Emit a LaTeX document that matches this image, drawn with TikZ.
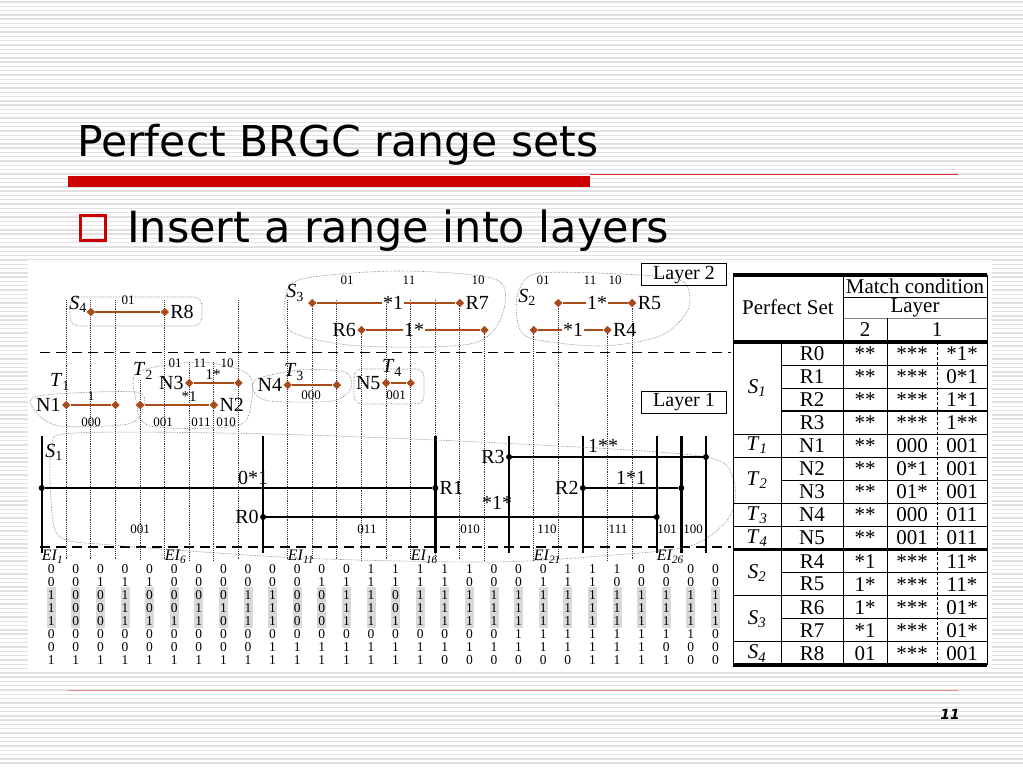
\documentclass[tikz,border=0pt]{standalone}
\usepackage{fontspec}
\setmainfont{DejaVu Sans}
\newfontfamily\tnr{Liberation Serif}
\usetikzlibrary{shapes.geometric}
\definecolor{brn}{RGB}{168,74,26}
\definecolor{slidered}{RGB}{204,0,0}
\newcommand\sub[2]{\textit{#1}\textsubscript{#2}}
\newcommand\isub[2]{\textit{#1}\textsubscript{\textit{#2}}}
\newcommand\fs[1]{\fontsize{#1}{#1}\selectfont}
\begin{document}
\begin{tikzpicture}[x=1pt,y=-1pt,
  dia/.style={diamond,fill=brn,inner sep=0pt,minimum size=8.5pt},
  sdot/.style={circle,fill=black,inner sep=0pt,minimum size=6pt},
  lbl/.style={inner sep=1pt,font=\tnr\fs{20}},
  sml/.style={inner sep=0pt,font=\tnr\fs{13}},
  bit/.style={inner sep=0pt,font=\tnr\fs{13.5}},
  blob/.style={draw=black!55,densely dotted,line width=0.6pt},
  rng/.style={draw=brn,line width=1.8pt},
  srng/.style={draw=black,line width=2pt},
  vdot/.style={draw=black!80,densely dotted,line width=0.9pt},
  vbold/.style={draw=black,line width=2.4pt},
  hdash/.style={draw=black,line width=1.8pt,dash pattern=on 10pt off 6pt},
  cell/.style={inner sep=0pt,font=\tnr\fs{21}}]
\useasboundingbox (0,0) rectangle (1023,767);
\foreach \y in {2,6.3,...,767} \draw[black!12,line width=1.4pt] (0,\y) -- (1023,\y);
\fill[white] (28,260) rectangle (992,672);
\node[anchor=base west,inner sep=0pt,font=\fs{42.5}] (title) at (77,157) {Perfect BRGC range sets};
\fill[slidered] (68,176) rectangle (590,187);
\draw[slidered!80,line width=1pt] (590,174.5) -- (958,174.5);
\node[draw=slidered,line width=3.5pt,minimum size=25pt,inner sep=0pt] (box) at (93,228) {};
\node[anchor=base west,inner sep=0pt,font=\fs{43}] (item) at (127,243) {Insert a range into layers};
\draw[slidered!45,line width=0.8pt] (68,690) -- (958,690);
\node[font=\bfseries\itshape\fs{14}] (pg) at (950,714) {11};
\foreach \k in {0,...,27} \coordinate (b\k) at ({41.7+24.6*\k},0);
\foreach \k/\t in {1/300,2/300,3/300,4/380,5/300,6/362,7/362,8/300,10/300,11/300,12/300,13/328,14/300,15/300,16/300,17/300,18/328,20/328,21/300,23/328,24/300}
  \draw[vdot] (b\k |- 0,\t) -- (b\k |- 0,560);
\foreach \k in {0,9,16,19,22,25,26,27} \draw[vbold] (b\k |- 0,436) -- (b\k |- 0,553);
\draw[hdash] (40,352.5) -- (731,352.5);
\draw[hdash] (40,547) -- (731,547);
\draw[blob,rounded corners=9pt] (70,297) rectangle (202,326);
\draw[blob] plot[smooth cycle] coordinates {(285,300) (302,279) (400,271) (497,280) (501,318) (470,344) (360,346) (292,332)};
\draw[blob] plot[smooth cycle] coordinates {(519,290) (540,273) (640,275) (684,282) (688,310) (660,336) (600,346) (530,338) (517,318)};
\draw[blob] plot[smooth cycle] coordinates {(38,396) (135,392) (143,408) (128,424) (60,426) (36,412)};
\draw[blob] plot[smooth cycle] coordinates {(138,372) (200,362) (248,374) (251,404) (236,426) (150,426) (136,400)};
\draw[blob] plot[smooth cycle] coordinates {(257,379) (300,370) (345,372) (351,388) (332,401) (270,401) (254,392)};
\draw[blob,rounded corners=8pt] (354,369) rectangle (424,404);
\draw[blob] plot[smooth cycle] coordinates {(52,448) (75,433) (270,434) (500,443) (700,456) (733,478) (730,516) (690,546) (600,556) (490,562) (300,558) (112,545) (60,537) (51,500)};
\node[draw,line width=1pt,minimum width=85pt,minimum height=22pt,inner sep=0pt,font=\tnr\fs{20}] (lay2) at (684,275) {Layer 2};
\node[draw,line width=1pt,minimum width=85pt,minimum height=22pt,inner sep=0pt,font=\tnr\fs{20}] (lay1) at (684,402) {Layer 1};
% layer 2
\node[lbl] (s4) at (78,304) {\sub{S}{4}}; \node[sml] (s4c) at (128,300) {01};
\node[dia] (r8a) at (b2 |- 0,312) {}; \node[dia] (r8b) at (b5 |- 0,312) {};
\draw[rng] (r8a) -- (r8b); \node[lbl,anchor=west] (r8) at (r8b.east) {R8};
\node[lbl] (s3) at (295,293) {\sub{S}{3}};
\node[sml] (s3c1) at (347,280) {01}; \node[sml] (s3c2) at (409,280) {11}; \node[sml] (s3c3) at (478,280) {10};
\node[dia] (r7a) at (b11 |- 0,303) {}; \node[dia] (r7b) at (b17 |- 0,303) {};
\node[lbl] (r7m) at (393,303) {*1}; \draw[rng] (r7a) -- (r7m.west) (r7m.east) -- (r7b);
\node[lbl,anchor=west] (r7) at (r7b.east) {R7};
\node[dia] (r6a) at (b13 |- 0,330) {}; \node[dia] (r6b) at (b18 |- 0,330) {};
\node[lbl] (r6m) at (414,330) {1*}; \draw[rng] (r6a) -- (r6m.west) (r6m.east) -- (r6b);
\node[lbl,anchor=east] (r6) at (r6a.west) {R6};
\node[lbl] (s2) at (527,297) {\sub{S}{2}};
\node[sml] (s2c1) at (543,280) {01}; \node[sml] (s2c2) at (590,280) {11}; \node[sml] (s2c3) at (615,280) {10};
\node[dia] (r5a) at (b21 |- 0,303) {}; \node[dia] (r5b) at (b24 |- 0,303) {};
\node[lbl] (r5m) at (597,303) {1*}; \draw[rng] (r5a) -- (r5m.west) (r5m.east) -- (r5b);
\node[lbl,anchor=west] (r5) at (r5b.east) {R5};
\node[dia] (r4a) at (b20 |- 0,330) {}; \node[dia] (r4b) at (b23 |- 0,330) {};
\node[lbl] (r4m) at (573,330) {*1}; \draw[rng] (r4a) -- (r4m.west) (r4m.east) -- (r4b);
\node[lbl,anchor=west] (r4) at (r4b.east) {R4};
% layer 1
\node[lbl] (t1) at (60,382) {\sub{T}{1}};
\node[dia] (n1a) at (b1 |- 0,405) {}; \node[dia] (n1b) at (b3 |- 0,405) {};
\draw[rng] (n1a) -- (n1b); \node[lbl,anchor=east] (n1) at (n1a.west) {N1};
\node[sml] (n1m) at (91,396) {1}; \node[sml] (n1c) at (91,422) {000};
\node[lbl] (t2) at (143,371) {\sub{T}{2}};
\node[sml] (t2c1) at (175,363) {01}; \node[sml] (t2c2) at (200,363) {11}; \node[sml] (t2c3) at (227,363) {10};
\node[dia] (n2a) at (b4 |- 0,405) {}; \node[dia] (n2b) at (b7 |- 0,405) {};
\draw[rng] (n2a) -- (n2b); \node[lbl,anchor=west] (n2) at (n2b.east) {N2};
\node[sml,font=\tnr\fs{15}] (n2m) at (189,397) {*1};
\node[dia] (n3a) at (b6 |- 0,383) {}; \node[dia] (n3b) at (b8 |- 0,383) {};
\draw[rng] (n3a) -- (n3b); \node[lbl,anchor=east] (n3) at (n3a.west) {N3};
\node[sml,font=\tnr\fs{15}] (n3m) at (213,375) {1*};
\node[sml] (t2d1) at (163,422) {001}; \node[sml] (t2d2) at (201,422) {011}; \node[sml] (t2d3) at (226,422) {010};
\node[lbl] (t3) at (294,372) {\sub{T}{3}};
\node[dia] (n4a) at (b10 |- 0,385) {}; \node[dia] (n4b) at (b12 |- 0,385) {};
\draw[rng] (n4a) -- (n4b); \node[lbl,anchor=east] (n4) at (n4a.west) {N4};
\node[sml] (n4c) at (311,395) {000};
\node[lbl] (t4) at (392,368) {\sub{T}{4}};
\node[dia] (n5a) at (b14 |- 0,383) {}; \node[dia] (n5b) at (b15 |- 0,383) {};
\draw[rng] (n5a) -- (n5b); \node[lbl,anchor=east] (n5) at (n5a.west) {N5};
\node[sml] (n5c) at (396,395) {001};
\node[lbl] (s1) at (54,452) {\sub{S}{1}};
\node[sdot] (r3a) at (b19 |- 0,457) {}; \node[sdot] (r3b) at (b27 |- 0,457) {};
\draw[srng] (r3a) -- (r3b); \node[lbl,anchor=east] (r3) at (r3a.west) {R3}; \node[lbl] (r3m) at (603,446) {1**};
\node[sdot] (r1a) at (b0 |- 0,488) {}; \node[sdot] (r1b) at (b16 |- 0,488) {};
\draw[srng] (r1a) -- (r1b); \node[lbl,anchor=west] (r1) at (r1b.east) {R1}; \node[lbl] (r1m) at (253,478) {0*1};
\node[sdot] (r0a) at (b9 |- 0,517) {}; \node[sdot] (r0b) at (b25 |- 0,517) {};
\draw[srng] (r0a) -- (r0b); \node[lbl,anchor=east] (r0) at (r0a.west) {R0}; \node[lbl] (r0m) at (497,503) {*1*};
\node[sdot] (r2a) at (b22 |- 0,488) {}; \node[sdot] (r2b) at (b26 |- 0,488) {};
\draw[srng] (r2a) -- (r2b); \node[lbl,anchor=east] (r2) at (r2a.west) {R2}; \node[lbl] (r2m) at (631,478) {1*1};
\foreach \t/\x in {001/140,011/367,010/470,110/547,111/618,101/667,100/693} \node[sml] (e\t) at (\x,529) {\t};
% elementary intervals
\foreach \k in {1,6,11,16,21,26} \node[anchor=west,inner sep=0pt,font=\tnr\itshape\fs{16}] (ei\k) at ({41.7+24.6*(\k-1)},557) {EI\textsubscript{\k}};
\foreach \c [count=\k from 0] in {{0,0,1,1,1,0,0,1},{0,0,0,0,0,0,0,1},{0,1,0,0,0,0,0,1},{0,1,1,1,1,0,0,1},{0,1,0,0,1,0,0,1},{0,0,0,0,1,0,0,1},{0,0,0,1,1,0,0,1},{0,0,0,1,0,0,0,1},{0,0,1,1,1,0,0,1},{0,0,1,1,1,0,1,1},{0,0,0,0,0,0,1,1},{0,1,0,0,0,0,1,1},{0,1,1,1,1,0,1,1},{1,1,1,1,1,0,1,1},{1,1,0,0,1,0,1,1},{1,1,1,1,1,0,1,1},{1,1,1,1,1,0,1,0},{1,0,1,1,1,0,1,0},{0,0,1,1,1,0,1,0},{0,0,1,1,1,1,1,0},{0,1,1,1,1,1,1,0},{1,1,1,1,1,1,1,0},{1,1,1,1,1,1,1,1},{1,0,1,1,1,1,1,1},{0,0,1,1,1,1,1,1},{0,0,1,1,1,1,0,1},{0,0,1,1,1,1,0,0},{0,0,1,1,1,0,0,0}}{
  \fill[black!15] ({46.7+24.6*\k},587) rectangle +(9,41);
  \foreach \v [count=\r] in \c \node[bit] (c\k-\r) at ({51.2+24.6*\k},{556+13*\r}) {\v};
}
% table
\draw[line width=3.5pt] (733,275) -- (987,275);
\draw[line width=0.8pt] (843,297) -- (987,297);
\draw[black!50,line width=0.8pt] (843,318) -- (987,318);
\draw[line width=3.5pt] (733,342) -- (987,342);
\foreach \i/\x in {1/781,2/781,4/733,5/733,6/781,7/733,8/733,10/781,11/733,12/781,13/733} \draw[line width=0.9pt] (\x,{342+23.07*\i}) -- (987,{342+23.07*\i});
\draw[line width=2pt] (781,411.2) -- (987,411.2);
\draw[line width=3.5pt] (733,549.6) -- (987,549.6);
\draw[line width=3.5pt] (733,665) -- (987,665);
\draw[line width=0.9pt] (733,275) -- (733,665) (843,275) -- (843,665) (987,275) -- (987,665) (781,342) -- (781,665) (887,318) -- (887,665);
\draw[densely dashed,line width=0.6pt] (937,342) -- (937,665);
\node[cell] (hps) at (788,307) {Perfect Set};
\node[cell] (hmc) at (915,286) {Match condition};
\node[cell] (hl) at (915,308) {Layer};
\node[cell] (h2) at (865,330) {2}; \node[cell] (h1) at (937,330) {1};
\foreach \s/\k/\y in {S/1/388,T/1/445.5,T/2/480,T/3/515,T/4/538,S/2/573,S/3/619,S/4/653.6} \node[cell] (set\s\k) at (757,\y) {\isub{\s}{\k}};
\foreach \n/\p/\q/\m [count=\i from 0] in {R0/**/***/*1*,R1/**/***/0*1,R2/**/***/1*1,R3/**/***/1**,N1/**/000/001,N2/**/0*1/001,N3/**/01*/001,N4/**/000/011,N5/**/001/011,R4/*1/***/11*,R5/1*/***/11*,R6/1*/***/01*,R7/*1/***/01*,R8/01/***/001}{
  \node[cell] (tn\i) at (812,{353.5+23.07*\i}) {\n};
  \node[cell] (tp\i) at (865,{353.5+23.07*\i}) {\p};
  \node[cell] (tq\i) at (912,{353.5+23.07*\i}) {\q};
  \node[cell] (tm\i) at (962,{353.5+23.07*\i}) {\m};
}
\end{tikzpicture}
\end{document}
